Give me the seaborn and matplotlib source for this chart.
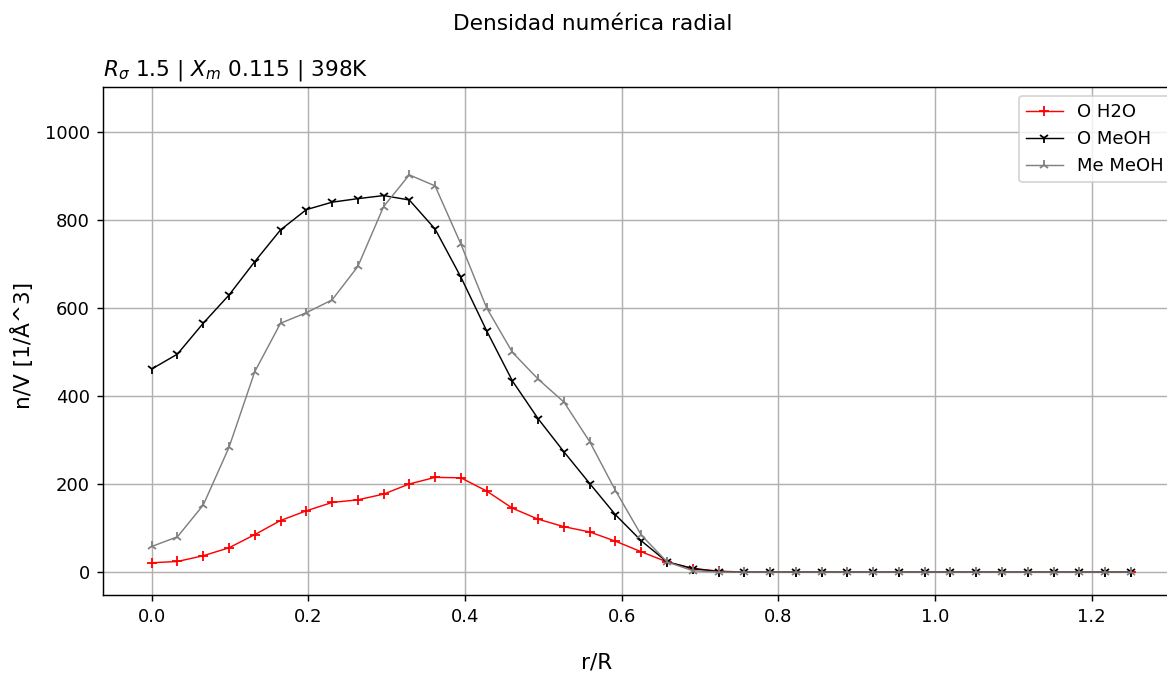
import numpy as np
import pandas as pd
import matplotlib
matplotlib.use("Agg")
import matplotlib.pyplot as plt
import seaborn as sns

# radial positions r/R
r_R = [0.0, 0.0329, 0.0658, 0.0987, 0.1316, 0.1645, 0.1974, 0.2303, 0.2632, 0.2961,
       0.3289, 0.3618, 0.3947, 0.4276, 0.4605, 0.4934, 0.5263, 0.5592, 0.5921, 0.6250,
       0.6579, 0.6908, 0.7237, 0.7566, 0.7895, 0.8224, 0.8553, 0.8882, 0.9211, 0.9539,
       0.9868, 1.0197, 1.0526, 1.0855, 1.1184, 1.1513, 1.1842, 1.2171, 1.25]

o_h2o = [21, 24, 37, 55, 85, 117, 139, 158, 164, 177, 200, 215, 214, 184, 145, 120,
         103, 91, 70, 46, 23, 8, 2] + [0] * 16
o_meoh = [461, 495, 565, 629, 705, 777, 823, 840, 848, 855, 845, 779, 670, 548, 434, 348,
          273, 201, 130, 71, 23, 8, 1] + [0] * 16
me_meoh = [58, 80, 152, 283, 455, 565, 589, 618, 694, 830, 902, 877, 745, 600, 499, 438,
           386, 296, 185, 84, 23, 3, 0] + [0] * 16

df = pd.DataFrame({"r": r_R, "O H2O": o_h2o, "O MeOH": o_meoh, "Me MeOH": me_meoh})

fig = plt.figure(figsize=(1167 / 130, 673 / 130), dpi=130)
ax = fig.add_axes([0.088, 0.116, 0.923, 0.755])

series = [("O H2O", "red", "+"), ("O MeOH", "black", "1"), ("Me MeOH", "gray", "2")]
for name, col, mk in series:
    sns.lineplot(data=df, x="r", y=name, ax=ax, color=col, marker=mk, lw=0.8,
                 markersize=6, markeredgewidth=1.0, markeredgecolor=col,
                 markerfacecolor=col, label=name)

ax.set_ylim(-52, 1102)
ax.grid(True)
ax.set_xlabel("")
ax.set_ylabel("")
ax.set_title(r"$R_\sigma$ 1.5 | $X_m$ 0.115 | 398K", loc="left")
fig.suptitle("Densidad numérica radial", x=0.508, y=0.964, va="center")
fig.supxlabel("r/R", x=0.511, y=0.015, va="center")
fig.supylabel("n/V [1/Å^3]", x=0.019, y=0.487, va="center", ha="center")
ax.legend(loc="upper right")

fig.savefig("out.png", dpi=130)
